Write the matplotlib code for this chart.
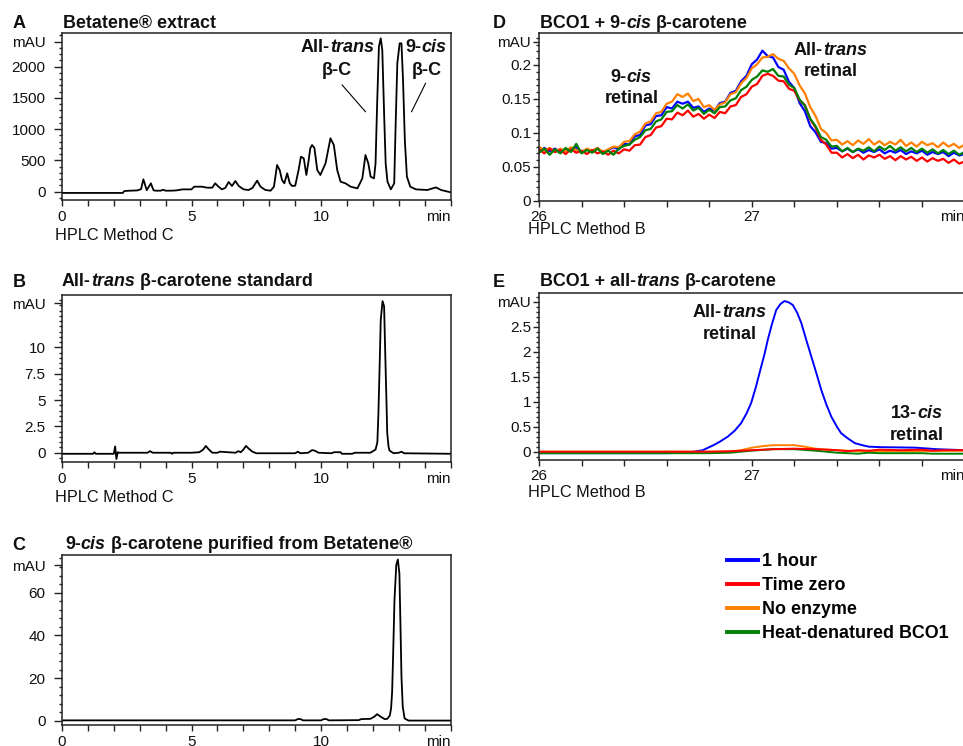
import matplotlib
matplotlib.use('Agg')
import matplotlib.pyplot as plt
from matplotlib.ticker import FixedLocator, MultipleLocator
from matplotlib.transforms import IdentityTransform
from matplotlib.lines import Line2D

plt.rcParams['font.family'] = ['Liberation Sans', 'DejaVu Sans']

# ---------------- data ----------------
A_time = [0.0, 2.35, 2.4, 2.63, 2.9, 3.05, 3.14, 3.27, 3.43, 3.53, 3.6, 3.8, 3.9, 4.0, 4.2, 4.4,
          4.65, 5.0, 5.1, 5.4, 5.6, 5.8, 5.91, 6.04, 6.17, 6.3, 6.43, 6.56, 6.69, 6.82, 7.01, 7.2,
          7.35, 7.53, 7.66, 7.85, 8.05, 8.18, 8.3, 8.4, 8.49, 8.58, 8.69, 8.79, 8.88, 9.0, 9.13,
          9.22, 9.33, 9.43, 9.52, 9.58, 9.65, 9.74, 9.85, 9.97, 10.17, 10.36, 10.49, 10.62, 10.75,
          10.94, 11.14, 11.4, 11.59, 11.71, 11.82, 11.91, 12.04, 12.1, 12.16, 12.23, 12.3, 12.36,
          12.43, 12.49, 12.56, 12.69, 12.82, 12.87, 12.94, 13.03, 13.1, 13.16, 13.23, 13.31, 13.44,
          13.66, 14.1, 14.3, 14.43, 14.63, 15.0]
A_mau = [-20, -20, 10, 16, 20, 40, 198, 24, 134, 24, 16, 16, 30, 16, 16, 20,
         37, 37, 80, 80, 64, 64, 134, 80, 37, 60, 155, 91, 171, 91, 37, 27,
         60, 176, 80, 27, 16, 80, 427, 347, 187, 134, 294, 134, 91, 96, 347,
         560, 533, 267, 507, 693, 747, 700, 347, 267, 454, 854, 747, 347, 160,
         133, 80, 53, 213, 587, 454, 240, 213, 454, 1387, 2320, 2454, 2267,
         1253, 454, 160, 37, 133, 987, 2054, 2374, 2374, 1787, 827, 240, 80,
         37, 27, 53, 69, 27, -10]

B_time = [0, 1.2, 1.25, 1.3, 2.0, 2.05, 2.1, 2.15, 2.2, 3.3, 3.4, 3.5, 4.2, 4.25, 4.3, 5.0,
          5.3, 5.45, 5.55, 5.65, 5.8, 6.0, 6.1, 6.7, 6.8, 6.9, 7.0, 7.1, 7.2, 7.35, 7.5, 9.0,
          9.1, 9.2, 9.5, 9.65, 9.75, 9.9, 10.4, 10.5, 10.75, 10.8, 11.2, 11.3, 11.9, 12.1,
          12.17, 12.21, 12.26, 12.3, 12.37, 12.43, 12.47, 12.52, 12.55, 12.6, 12.64, 12.8,
          13.0, 13.1, 13.2, 15.0]
B_mau = [-0.1, -0.1, 0.05, -0.1, -0.1, 0.6, -0.6, 0.05, 0.0, 0.0, 0.15, 0.0, 0.0, -0.1, 0.0, 0.0,
         0.05, 0.3, 0.65, 0.35, 0.0, 0.0, 0.1, 0.0, 0.15, 0.05, 0.3, 0.65, 0.4, 0.1, -0.05, -0.05,
         0.1, -0.05, 0.0, 0.25, 0.2, 0.0, -0.05, 0.05, 0.05, -0.1, -0.1, 0.0, 0.0, 0.3,
         1.0, 3.7, 8.5, 12.6, 14.4, 13.9, 9.8, 5.0, 1.9, 0.6, 0.2, -0.05,
         0.0, 0.1, -0.05, -0.1]

C_time = [0, 9.0, 9.1, 9.2, 9.3, 10.0, 10.1, 10.2, 10.3, 11.45, 11.55, 11.9, 12.05, 12.16, 12.3,
          12.45, 12.55, 12.65, 12.7, 12.74, 12.78, 12.83, 12.9, 12.96, 13.02, 13.06, 13.1, 13.15,
          13.22, 13.37, 15.0]
C_mau = [0.3, 0.3, 0.9, 0.9, 0.3, 0.3, 0.9, 0.9, 0.3, 0.4, 0.9, 1.0, 2.0, 3.2, 2.0,
         0.9, 1.0, 2.5, 6.0, 13.7, 31.6, 56.5, 73.0, 75.5, 69.0, 45.7, 20.7, 6.7,
         1.2, 0.2, 0.2]

D_time = [26.0 + 0.025 * k for k in range(81)]
D_1hour = [0.072, 0.078, 0.073, 0.077, 0.071, 0.076, 0.074, 0.079, 0.072, 0.076, 0.073, 0.078,
           0.071, 0.075, 0.079, 0.076, 0.084, 0.083, 0.095, 0.097, 0.111, 0.113, 0.125, 0.126,
           0.138, 0.136, 0.146, 0.143, 0.146, 0.137, 0.139, 0.131, 0.136, 0.133, 0.144, 0.146,
           0.159, 0.162, 0.176, 0.184, 0.201, 0.208, 0.221, 0.213, 0.211, 0.197, 0.193, 0.175,
           0.166, 0.144, 0.132, 0.110, 0.101, 0.087, 0.085, 0.077, 0.078, 0.073, 0.077, 0.072,
           0.076, 0.071, 0.075, 0.072, 0.076, 0.070, 0.074, 0.071, 0.075, 0.069, 0.073, 0.070,
           0.074, 0.068, 0.072, 0.069, 0.072, 0.066, 0.071, 0.067, 0.069]
D_nozyme = [0.080, 0.074, 0.078, 0.072, 0.077, 0.073, 0.079, 0.075, 0.071, 0.077, 0.074, 0.078,
            0.072, 0.076, 0.080, 0.079, 0.087, 0.088, 0.098, 0.102, 0.114, 0.117, 0.129, 0.131,
            0.143, 0.146, 0.157, 0.153, 0.158, 0.147, 0.150, 0.138, 0.141, 0.134, 0.142, 0.145,
            0.157, 0.160, 0.173, 0.181, 0.195, 0.201, 0.211, 0.212, 0.216, 0.209, 0.206, 0.195,
            0.187, 0.170, 0.158, 0.138, 0.125, 0.106, 0.100, 0.089, 0.090, 0.083, 0.088, 0.082,
            0.089, 0.084, 0.091, 0.083, 0.088, 0.082, 0.087, 0.083, 0.090, 0.081, 0.086, 0.080,
            0.087, 0.082, 0.085, 0.079, 0.086, 0.080, 0.084, 0.078, 0.083]
D_zero = [0.076, 0.070, 0.077, 0.072, 0.075, 0.069, 0.076, 0.071, 0.074, 0.069, 0.075, 0.070,
          0.073, 0.068, 0.074, 0.070, 0.076, 0.074, 0.082, 0.083, 0.094, 0.097, 0.108, 0.110,
          0.121, 0.120, 0.130, 0.126, 0.133, 0.124, 0.128, 0.121, 0.127, 0.122, 0.131, 0.129,
          0.139, 0.141, 0.153, 0.157, 0.168, 0.172, 0.184, 0.187, 0.184, 0.177, 0.176, 0.165,
          0.162, 0.148, 0.141, 0.120, 0.108, 0.090, 0.083, 0.071, 0.071, 0.064, 0.069, 0.063,
          0.068, 0.061, 0.067, 0.064, 0.068, 0.062, 0.066, 0.060, 0.066, 0.061, 0.065, 0.059,
          0.064, 0.058, 0.063, 0.059, 0.062, 0.056, 0.061, 0.055, 0.058]
D_heat = [0.071, 0.077, 0.068, 0.076, 0.070, 0.078, 0.072, 0.084, 0.070, 0.075, 0.071, 0.077,
          0.069, 0.074, 0.068, 0.077, 0.081, 0.083, 0.090, 0.094, 0.104, 0.106, 0.117, 0.120,
          0.131, 0.132, 0.141, 0.136, 0.142, 0.133, 0.137, 0.128, 0.134, 0.129, 0.138, 0.139,
          0.148, 0.151, 0.163, 0.168, 0.178, 0.183, 0.192, 0.190, 0.194, 0.184, 0.183, 0.171,
          0.166, 0.149, 0.140, 0.121, 0.110, 0.094, 0.090, 0.080, 0.081, 0.073, 0.078, 0.072,
          0.077, 0.074, 0.079, 0.073, 0.080, 0.075, 0.081, 0.074, 0.079, 0.073, 0.078, 0.072,
          0.077, 0.071, 0.076, 0.070, 0.075, 0.069, 0.074, 0.068, 0.072]

E_time_1hour = [26.0, 26.2, 26.4, 26.6, 26.7, 26.77, 26.82, 26.85, 26.887, 26.92, 26.95, 26.975,
                26.997, 27.02, 27.04, 27.06, 27.075, 27.095, 27.115, 27.135, 27.154, 27.175,
                27.193, 27.213, 27.233, 27.255, 27.28, 27.305, 27.327, 27.35, 27.374, 27.4,
                27.42, 27.45, 27.485, 27.52, 27.55, 27.61, 27.7, 27.77, 27.87, 28.0]
E_1hour = [-0.03, -0.03, -0.03, -0.03, -0.02, 0.03, 0.13, 0.20, 0.30, 0.42, 0.57, 0.76,
           0.97, 1.30, 1.63, 1.95, 2.23, 2.55, 2.83, 2.95, 3.01, 2.98,
           2.93, 2.78, 2.57, 2.25, 1.90, 1.55, 1.23, 0.95, 0.70, 0.50,
           0.37, 0.27, 0.17, 0.13, 0.10, 0.09, 0.085, 0.08, 0.05, 0.03]
E_time_nozyme = [26.0, 26.9, 26.95, 27.0, 27.05, 27.1, 27.2, 27.25, 27.3, 27.4, 27.5, 27.7, 28.0]
E_nozyme = [0.0, 0.0, 0.03, 0.08, 0.11, 0.13, 0.13, 0.10, 0.06, 0.03, 0.01, 0.01, 0.02]
E_time_heat = [26.0, 26.6, 26.8, 26.9, 27.0, 27.1, 27.2, 27.3, 27.4, 27.5, 27.55, 27.6, 27.8,
               27.85, 28.0]
E_heat = [-0.03, -0.03, -0.03, -0.02, 0.02, 0.05, 0.05, 0.02, -0.02, -0.04, -0.02, -0.03, -0.03,
          -0.04, -0.04]
E_time_zero = [26.0, 26.4, 26.8, 26.9, 27.0, 27.1, 27.2, 27.3, 27.4, 27.45, 27.5, 27.55, 27.6,
               27.7, 27.8, 27.85, 27.9, 28.0]
E_zero = [0.0, 0.0, 0.0, 0.01, 0.03, 0.05, 0.06, 0.05, 0.03, 0.01, 0.03, 0.02, 0.04,
          0.03, 0.04, 0.02, 0.03, 0.03]

legend_labels = ['1 hour', 'Time zero', 'No enzyme', 'Heat-denatured BCO1']
COL = {'1 hour': '#0000FF', 'Time zero': '#FF0000', 'No enzyme': '#FF8000',
       'Heat-denatured BCO1': '#008000'}

# ---------------- figure ----------------
W, H = 963, 746
fig = plt.figure(figsize=(W / 100, H / 100), dpi=100)


def px_axes(l, t, r, b):
    return fig.add_axes([l / W, 1 - b / H, (r - l) / W, (b - t) / H])


axA = px_axes(62, 33, 450.7, 200)
axB = px_axes(62, 295, 450.7, 462)
axC = px_axes(62, 555, 450.7, 725)
axD = px_axes(539, 33, 964.5, 201)
axE = px_axes(539, 293, 964.5, 460)

TICK_FS = 11


def style(ax, xlim, ylim, xmaj, xlab, xmin, ymaj, ylab, ymin, ylen, ypad, xpad):
    ax.set_xlim(*xlim)
    ax.set_ylim(*ylim)
    ax.xaxis.set_major_locator(FixedLocator(xmaj))
    ax.set_xticklabels(xlab)
    ax.xaxis.set_minor_locator(MultipleLocator(xmin))
    ax.yaxis.set_major_locator(FixedLocator(ymaj))
    ax.set_yticklabels(ylab)
    ax.yaxis.set_minor_locator(MultipleLocator(ymin))
    ax.tick_params(which='both', direction='out', top=False, right=False,
                   labelsize=TICK_FS, width=1.0, color='#222222', labelcolor='#111111')
    ax.tick_params(axis='y', which='major', length=ylen, pad=ypad)
    ax.tick_params(axis='y', which='minor', length=2.5)
    ax.tick_params(axis='x', which='major', length=4, pad=xpad)
    ax.tick_params(axis='x', which='minor', length=4)
    for s in ax.spines.values():
        s.set_linewidth(1.1)
        s.set_color('#222222')
    ax.get_xticklabels()[-1].set_horizontalalignment('right')


style(axA, (0, 15), (-133, 2539), [0, 5, 10, 15], ['0', '5', '10', 'min'], 1,
      [0, 500, 1000, 1500, 2000, 2400], ['0', '500', '1000', '1500', '2000', 'mAU'], 100,
      5.5, 6.3, 3.2)
style(axB, (0, 15), (-0.88, 14.98), [0, 5, 10, 15], ['0', '5', '10', 'min'], 1,
      [0, 2.5, 5, 7.5, 10, 14.2], ['0', '2.5', '5', '7.5', '10', 'mAU'], 0.5,
      5.5, 6.3, 3.2)
style(axC, (0, 15), (-1.87, 77.6), [0, 5, 10, 15], ['0', '5', '10', 'min'], 1,
      [0, 20, 40, 60, 72.9], ['0', '20', '40', '60', 'mAU'], 4,
      5.5, 6.3, 3.2)
style(axD, (26, 28), (0, 0.247), [26, 27, 28], ['26', '27', 'min'], 0.2,
      [0, 0.05, 0.1, 0.15, 0.2, 0.234], ['0', '0.05', '0.1', '0.15', '0.2', 'mAU'], 0.01,
      4.0, 1.6, 2.4)
style(axE, (26, 28), (-0.166, 3.17), [26, 27, 28], ['26', '27', 'min'], 0.2,
      [0, 0.5, 1, 1.5, 2, 2.5, 3.0], ['0', '0.5', '1', '1.5', '2', '2.5', 'mAU'], 0.1,
      4.0, 1.6, 2.4)

# traces
axA.plot(A_time, A_mau, color='black', lw=1.3)
axB.plot(B_time, B_mau, color='black', lw=1.3)
axC.plot(C_time, C_mau, color='black', lw=1.3)

axD.plot(D_time, D_1hour, color=COL['1 hour'], lw=1.6)
axD.plot(D_time, D_nozyme, color=COL['No enzyme'], lw=1.6)
axD.plot(D_time, D_zero, color=COL['Time zero'], lw=1.6)
axD.plot(D_time, D_heat, color=COL['Heat-denatured BCO1'], lw=1.6)

axE.plot(E_time_1hour, E_1hour, color=COL['1 hour'], lw=1.4)
axE.plot(E_time_nozyme, E_nozyme, color=COL['No enzyme'], lw=1.4)
axE.plot(E_time_heat, E_heat, color=COL['Heat-denatured BCO1'], lw=1.4)
axE.plot(E_time_zero, E_zero, color=COL['Time zero'], lw=1.4)

# leader lines for panel A
axA.plot([10.81, 11.71], [1707, 1280], color='black', lw=0.8)
axA.plot([14.03, 13.49], [1734, 1280], color='black', lw=0.8)

# ---------------- rich text helper ----------------
renderer = fig.canvas.get_renderer()
ID = IdentityTransform()


def text_w(s, size, style):
    t1 = fig.text(0, 0, 'X' + s + 'X', fontsize=size, fontweight='bold', fontstyle=style)
    t2 = fig.text(0, 0, 'XX', fontsize=size, fontweight='bold', fontstyle=style)
    w = t1.get_window_extent(renderer).width - t2.get_window_extent(renderer).width
    t1.remove()
    t2.remove()
    return w


def rich(x, y_base, parts, size, ha='left'):
    """x, y_base in image pixels (origin top-left); y_base is the baseline."""
    widths = [text_w(s, size, st) for s, st in parts]
    total = sum(widths)
    x0 = x - total / 2 if ha == 'center' else x
    for (s, st), w in zip(parts, widths):
        if s.strip():
            fig.text(x0, H - y_base, s, transform=ID, fontsize=size, fontweight='bold',
                     fontstyle=st, ha='left', va='baseline', color='#111111')
        x0 += w


def data_px(ax, x, y):
    dx, dy = ax.transData.transform((x, y))
    return dx, H - dy


N, I = 'normal', 'italic'
TFS = 12.9
LFS = 13

# panel letters and titles
for lab, (lx, ly) in zip('ABCDE', [(13, 28), (13, 287), (12, 550), (493, 28), (493, 287)]):
    fig.text(lx, H - ly, lab, transform=ID, fontsize=LFS, fontweight='bold',
             ha='left', va='baseline', color='#111111')

rich(63, 27.5, [('Betatene® extract', N)], TFS)
rich(62, 286.5, [('All-', N), ('trans', I), (' ', N), ('β-carotene standard', N)], TFS)
rich(65, 549, [('9-', N), ('cis', I), (' ', N), ('β-carotene purified from Betatene®', N)], TFS)
rich(540, 27.5, [('BCO1 + 9-', N), ('cis', I), (' ', N), ('β-carotene', N)], TFS)
rich(540, 286.5, [('BCO1 + all-', N), ('trans', I), (' ', N), ('β-carotene', N)], TFS)

# annotations (anchored in data coordinates)
AFS = 13
x, y = data_px(axA, 10.62, 2230)
rich(x, y, [('All-', N), ('trans', I)], AFS, 'center')
x, y = data_px(axA, 10.62, 1860)
rich(x, y, [('β-C', N)], AFS, 'center')
x, y = data_px(axA, 14.06, 2230)
rich(x, y, [('9-', N), ('cis', I)], AFS, 'center')
x, y = data_px(axA, 14.06, 1860)
rich(x, y, [('β-C', N)], AFS, 'center')

x, y = data_px(axD, 26.434, 0.175)
rich(x, y, [('9-', N), ('cis', I)], AFS, 'center')
x, y = data_px(axD, 26.434, 0.144)
rich(x, y, [('retinal', N)], AFS, 'center')
x, y = data_px(axD, 27.37, 0.215)
rich(x, y, [('All-', N), ('trans', I)], AFS, 'center')
x, y = data_px(axD, 27.37, 0.184)
rich(x, y, [('retinal', N)], AFS, 'center')

x, y = data_px(axE, 26.895, 2.69)
rich(x, y, [('All-', N), ('trans', I)], AFS, 'center')
x, y = data_px(axE, 26.895, 2.25)
rich(x, y, [('retinal', N)], AFS, 'center')
x, y = data_px(axE, 27.776, 0.67)
rich(x, y, [('13-', N), ('cis', I)], AFS, 'center')
x, y = data_px(axE, 27.776, 0.235)
rich(x, y, [('retinal', N)], AFS, 'center')

# axis method labels
XL_FS = 11.7
for (lx, ly, s) in [(55, 240.5, 'HPLC Method C'), (55, 502, 'HPLC Method C'),
                    (528, 234, 'HPLC Method B'), (528, 497, 'HPLC Method B')]:
    fig.text(lx, H - ly, s, transform=ID, fontsize=XL_FS, ha='left', va='baseline',
             color='#111111')

# legend
handles = [Line2D([], [], color=COL[l], lw=2.8) for l in legend_labels]
fig.legend(handles, legend_labels, loc='upper left', bbox_to_anchor=(727 / W, 1 - 553 / H),
           frameon=False, prop={'weight': 'bold', 'size': 12.9}, handlelength=1.72,
           handletextpad=0.22, labelspacing=0.4, borderpad=0, borderaxespad=0)

fig.savefig('out.png', dpi=100)
